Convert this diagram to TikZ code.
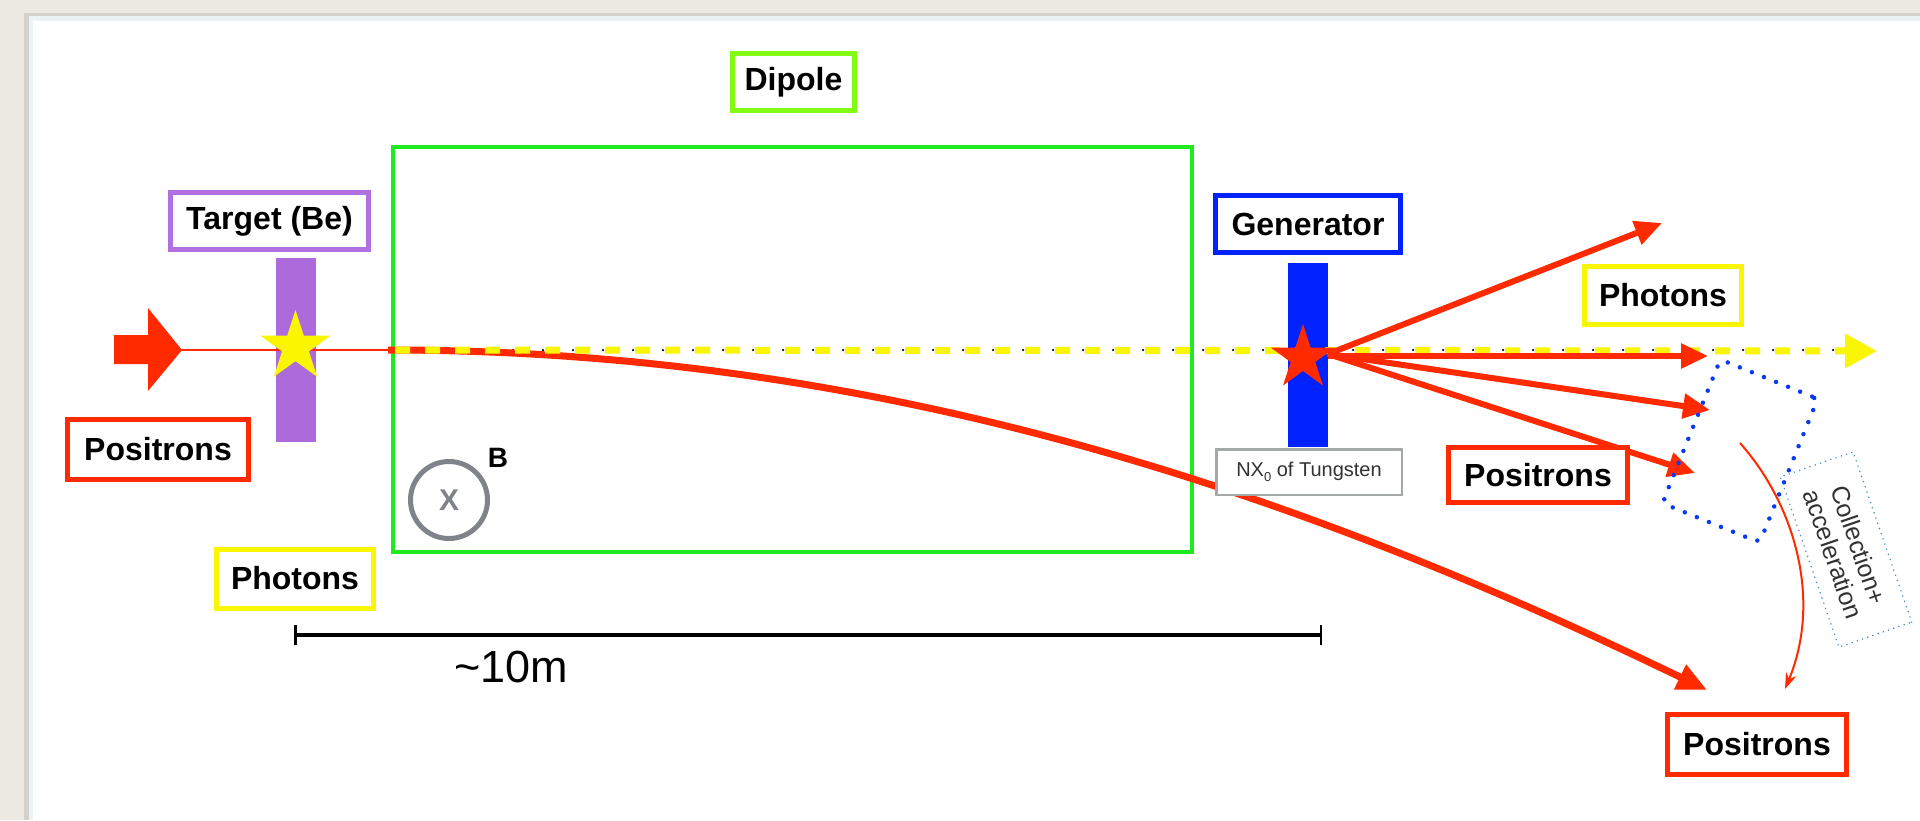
\documentclass[tikz,border=0pt]{standalone}
\usepackage{fontspec}
\setmainfont{Liberation Sans}
\usetikzlibrary{arrows.meta,shapes.geometric}

\definecolor{posred}{RGB}{255,42,0}
\definecolor{phyellow}{RGB}{250,245,0}
\definecolor{tgtpurple}{RGB}{173,106,219}
\definecolor{tgtborder}{RGB}{176,112,224}
\definecolor{genblue}{RGB}{0,34,255}
\definecolor{dotblue}{RGB}{10,58,240}
\definecolor{dipgreen}{RGB}{30,235,30}
\definecolor{diplime}{RGB}{130,250,20}
\definecolor{bgbeige}{RGB}{236,233,227}
\definecolor{bgshade}{RGB}{212,209,203}
\definecolor{panelrim}{RGB}{236,243,243}
\definecolor{circgray}{RGB}{128,132,138}
\definecolor{nxgray}{RGB}{165,168,168}
\definecolor{colblue}{RGB}{60,130,200}
\definecolor{txtgray}{RGB}{50,50,50}

\begin{document}
\begin{tikzpicture}[x=1pt,y=-1pt,
  lbl/.style={draw, line width=5pt, fill=white, inner sep=0pt,
    font=\fontsize{32}{36}\selectfont\bfseries, text=black},
  fan/.style={posred, line width=6pt, -{Triangle[length=27pt,width=24pt]}},
  barbox/.style={inner sep=0pt, minimum width=40pt, minimum height=184pt},
]
\useasboundingbox (0,0) rectangle (1920,820);
% background
\fill[bgbeige] (0,0) rectangle (1920,820);
\fill[bgshade] (24,14) rectangle (29,820);
\fill[bgshade] (24,13) rectangle (1920,16);
\fill[panelrim] (29,16) rectangle (1920,820);
\fill[white] (33,21) rectangle (1920,820);

% dipole box
\node[draw=dipgreen, line width=4.5pt, inner sep=0pt,
  minimum width=799pt, minimum height=405pt] (dipole) at (792.5,349.5) {};

% bars
\node[barbox, fill=tgtpurple] (tbar) at (296,350) {};
\node[barbox, fill=genblue] (gbar) at (1308,355) {};

% incoming beam
\coordinate (inarrow) at (182,350);
\coordinate (dipin) at (388,350);
\fill[posred] (114,335) -- (148,335) -- (148,308) -- (inarrow) -- (148,391) -- (148,364) -- (114,364) -- cycle;
\draw[posred, line width=2pt] (inarrow) -- (dipin);

% black dots under photon line
\coordinate (dotstart) at (483,350);
\coordinate (dotend) at (1845,350);
\draw[black, line width=2.5pt, line cap=round, dash pattern=on 0pt off 30pt] (dotstart) -- (dotend);

% bent positron trajectory
\coordinate (curveend) at (1707,690);
\draw[posred, line width=7pt, -{Triangle[length=30pt,width=26pt]}]
  (dipin) .. controls (900,350) and (1320,503) .. (curveend);

% photon line
\coordinate (phstart) at (395,350);
\coordinate (phend) at (1877,351);
\draw[phyellow, line width=7pt, dash pattern=on 15pt off 15pt,
  -{Triangle[length=32pt,width=33pt]}] (phstart) -- (phend);

% target star
\node[star, star points=5, star point ratio=2.618, fill=phyellow, inner sep=0pt,
  minimum size=74pt] (tstar) at (295.5,347) {};

% fan of arrows from generator
\coordinate (genout) at (1328,354);
\coordinate (genouth) at (1328,356);
\coordinate (tipA) at (1662,223);
\coordinate (tipB) at (1708,356);
\coordinate (tipC) at (1710,410);
\coordinate (tipD) at (1695,473);
\draw[fan] (genout) -- (tipA);
\draw[fan] (genouth) -- (tipB);
\draw[fan] (genout) -- (tipC);
\draw[fan] (genout) -- (tipD);

% generator star
\node[star, star points=5, star point ratio=2.618, fill=posred, inner sep=0pt,
  minimum size=68pt] (gstar) at (1303,358) {};

% NX0 box
\node[draw=nxgray, line width=2.5pt, fill=white, inner sep=0pt,
  minimum width=185.5pt, minimum height=45.5pt, text=txtgray,
  font=\fontsize{20}{22}\selectfont] (nx) at (1309,472)
  {NX\raisebox{-0.22em}{\fontsize{13}{13}\selectfont 0} of Tungsten};

% labels
\node[lbl, draw=diplime, minimum width=122pt, minimum height=57pt] (diplbl) at (793.5,82) {Dipole};
\node[lbl, draw=tgtborder, minimum width=198pt, minimum height=57pt] (tgtlbl) at (269.5,221) {Target (Be)};
\node[lbl, draw=genblue, minimum width=185pt, minimum height=57pt] (genlbl) at (1308,224) {Generator};
\node[lbl, draw=phyellow, minimum width=157pt, minimum height=58pt] (phlblR) at (1663,295.5) {Photons};
\node[lbl, draw=phyellow, minimum width=157pt, minimum height=59pt] (phlblL) at (295,578.5) {Photons};
\node[lbl, draw=posred, minimum width=181pt, minimum height=60pt] (poslblL) at (158,449.5) {Positrons};
\node[lbl, draw=posred, minimum width=179pt, minimum height=55pt] (poslblM) at (1538,475) {Positrons};
\node[lbl, draw=posred, minimum width=179pt, minimum height=60pt] (poslblB) at (1757,744.5) {Positrons};

% magnetic field symbol
\node[circle, draw=circgray, line width=5pt, inner sep=0pt, minimum size=77pt,
  text=circgray, font=\fontsize{30}{30}\selectfont\bfseries] (bfield) at (449,500) {X};
\node[font=\fontsize{28}{28}\selectfont\bfseries] (blbl) at (498,458) {B};

% scale bar
\coordinate (sl) at (294,635);
\coordinate (sr) at (1322,635);
\draw[line width=4.5pt, {Bar[width=20pt,line width=2.5pt]}-{Bar[width=20pt,line width=2.5pt]}] (sl) -- (sr);
\node[anchor=base, font=\fontsize{45}{45}\selectfont] (scalelbl) at (511,682) {\textasciitilde10m};

% collection region
\node[draw=dotblue, line width=4.5pt, line cap=round, dash pattern=on 0pt off 13pt,
  rounded corners=6pt, inner sep=0pt, minimum width=105pt, minimum height=155pt,
  rotate=-22] (collect) at (1740,451) {};
\node[draw=colblue, line width=1.6pt, line cap=round, dash pattern=on 0pt off 5.5pt,
  inner sep=0pt, minimum width=180pt, minimum height=77pt, rotate=-71,
  align=center, text=txtgray, font=\fontsize{25}{27}\selectfont] (collbl) at (1846,549.5)
  {Collection+\\acceleration};
\coordinate (cstart) at (1740,443);
\coordinate (cend) at (1785,689);
\draw[posred, line width=2pt, -{Stealth[length=16pt,width=11pt]}]
  (cstart) .. controls (1795,505) and (1822,600) .. (cend);
\end{tikzpicture}
\end{document}
